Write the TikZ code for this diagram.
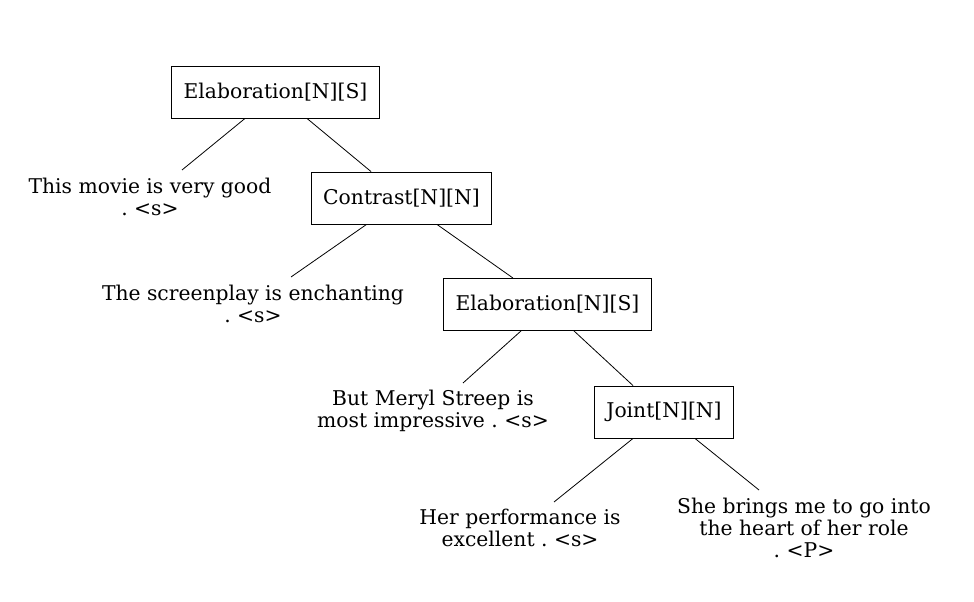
\documentclass[tikz,border=0pt]{standalone}
\usepackage{fontspec}
\setmainfont{DejaVu Serif}
\usetikzlibrary{calc,positioning}
\frenchspacing

\begin{document}
\begin{tikzpicture}[x=1pt,y=-1pt,
  rel/.style={draw,line width=0.9pt,minimum height=52pt,inner xsep=12pt,font=\fontsize{20.3}{22}\selectfont},
  leaf/.style={align=center,inner sep=0pt,font=\fontsize{20.3}{22}\selectfont},
  edge/.style={line width=0.8pt}]

\useasboundingbox (0,0) rectangle (974,602);

% relation nodes
\node [rel] (elab1) at (275.5,92) {Elaboration[N][S]};
\node [rel] (contr) at (401.5,198) {Contrast[N][N]};
\node [rel] (elab2) at (547.5,304.5) {Elaboration[N][S]};
\node [rel] (joint) at (664,412) {Joint[N][N]};

% leaves
\node [leaf] (l1) at (150,196.5) {This movie is very good\\. <s>};
\node [leaf] (l2) at (253,303.5) {The screenplay is enchanting\\. <s>};
\node [leaf] (l3) at (433,410.5) {But Meryl Streep is\\most impressive . <s>};
\node [leaf] (l4) at (520,528) {Her performance is\\excellent . <s>};
\node [leaf] (l5) at (804,528) {She brings me to go into\\the heart of her role\\. <P>};

% edges
\draw [edge] ([xshift=-30.5pt]elab1.south) -- ($(l1)+(32,-26.5)$);
\draw [edge] ([xshift=31.5pt]elab1.south) -- ([xshift=-30.5pt]contr.north);
\draw [edge] ([xshift=-35pt]contr.south) -- ($(l2)+(38,-26.5)$);
\draw [edge] ([xshift=35.5pt]contr.south) -- ([xshift=-34.5pt]elab2.north);
\draw [edge] ([xshift=-26.5pt]elab2.south) -- ($(l3)+(30,-27.5)$);
\draw [edge] ([xshift=26.5pt]elab2.south) -- ([xshift=-31pt]joint.north);
\draw [edge] ([xshift=-31pt]joint.south) -- ($(l4)+(34,-26)$);
\draw [edge] ([xshift=31pt]joint.south) -- ($(l5)+(-45,-38)$);

\end{tikzpicture}
\end{document}
